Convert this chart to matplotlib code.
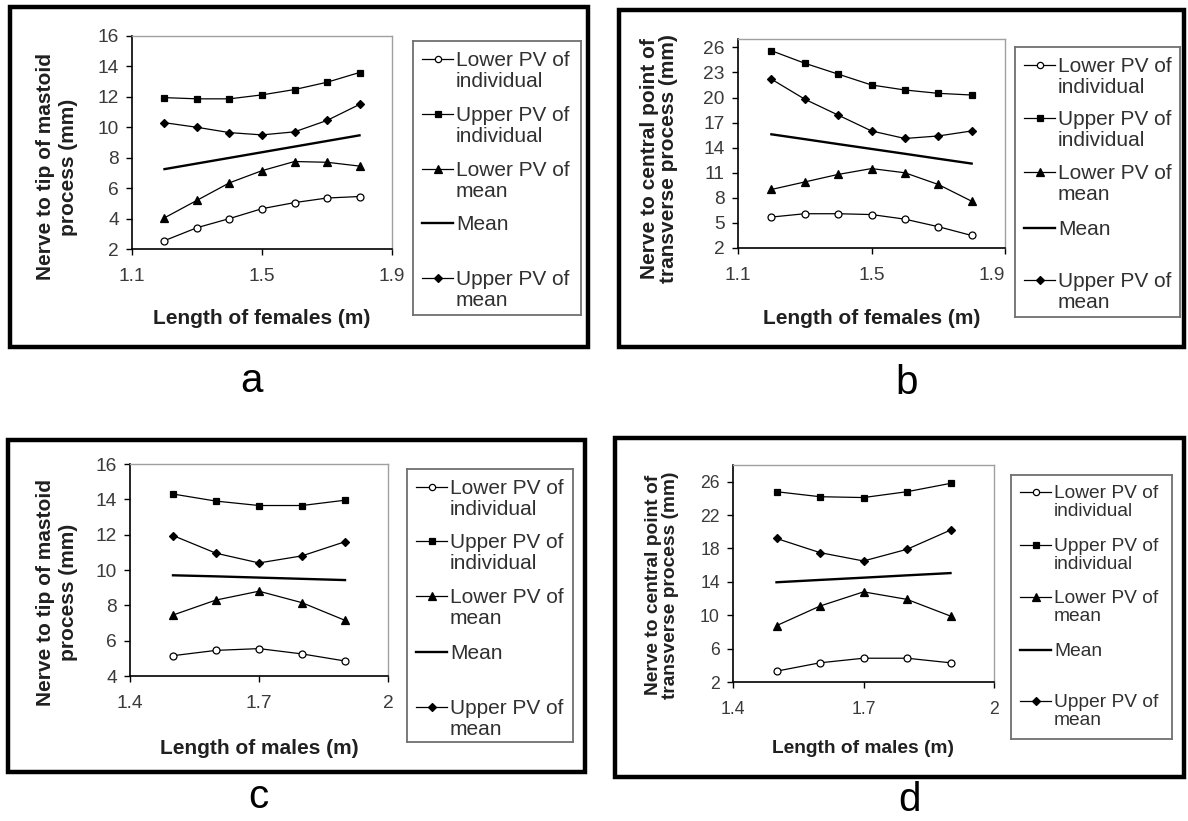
import numpy as np
import matplotlib.pyplot as plt
from matplotlib.patches import Rectangle

plt.rcParams['font.family'] = ['Liberation Sans', 'DejaVu Sans']

W, H = 1188, 821

# body length (m)
len_fem = [1.2, 1.3, 1.4, 1.5, 1.6, 1.7, 1.8]
len_male = [1.5, 1.6, 1.7, 1.8, 1.9]

# a: nerve to tip of mastoid process, females
a_low_ind = [2.55, 3.4, 4.0, 4.65, 5.05, 5.35, 5.45]
a_up_ind = [11.95, 11.87, 11.87, 12.13, 12.48, 12.96, 13.6]
a_low_mean = [4.05, 5.2, 6.35, 7.15, 7.75, 7.7, 7.45]
a_mean = [7.25, 7.62, 7.99, 8.36, 8.73, 9.1, 9.47]
a_up_mean = [10.3, 10.0, 9.65, 9.5, 9.7, 10.45, 11.5]

# b: nerve to central point of transverse process, females
b_low_ind = [5.7, 6.1, 6.1, 6.0, 5.45, 4.55, 3.5]
b_up_ind = [25.6, 24.1, 22.8, 21.5, 20.9, 20.5, 20.3]
b_low_mean = [9.0, 9.9, 10.8, 11.5, 11.0, 9.6, 7.6]
b_mean = [15.6, 15.02, 14.43, 13.85, 13.27, 12.68, 12.1]
b_up_mean = [22.2, 19.8, 17.9, 16.0, 15.1, 15.4, 16.0]

# c: nerve to tip of mastoid process, males
c_low_ind = [5.15, 5.45, 5.55, 5.25, 4.85]
c_up_ind = [14.3, 13.9, 13.65, 13.65, 13.95]
c_low_mean = [7.45, 8.3, 8.8, 8.15, 7.15]
c_mean = [9.7, 9.64, 9.57, 9.5, 9.43]
c_up_mean = [11.95, 10.95, 10.4, 10.8, 11.6]

# d: nerve to central point of transverse process, males
d_low_ind = [3.3, 4.3, 4.85, 4.85, 4.3]
d_up_ind = [24.8, 24.2, 24.1, 24.8, 25.8]
d_low_mean = [8.75, 11.1, 12.8, 11.9, 9.9]
d_mean = [13.95, 14.23, 14.5, 14.78, 15.05]
d_up_mean = [19.2, 17.5, 16.5, 17.9, 20.2]

series_labels = ['Lower PV of\nindividual', 'Upper PV of\nindividual',
                 'Lower PV of\nmean', 'Mean', 'Upper PV of\nmean']

styles = [
    dict(marker='o', ms=5, mfc='white', mew=0.9, lw=0.9),
    dict(marker='s', ms=5, mfc='black', mew=0.9, lw=0.9),
    dict(marker='^', ms=6, mfc='black', mew=0.9, lw=0.9),
    dict(marker='None', lw=1.7),
    dict(marker='D', ms=4.5, mfc='black', mew=0.9, lw=0.9),
]

fig = plt.figure(figsize=(W / 100, H / 100), dpi=100)
fig.patch.set_facecolor('white')


def px_rect(x0, y0, x1, y1):
    return [x0 / W, 1 - y1 / H, (x1 - x0) / W, (y1 - y0) / H]


def draw_panel(box, plot, legbox, leg_rows, x, ys, xlim, xticks, xticklabels,
               ylim, yticks, xlabel, ylabel, ylab_xy, xlab_y, letter, letter_xy,
               fs=1.0, ls=1.3, last_right=False):
    # outer frame of the panel
    fig.add_artist(Rectangle((box[0] / W, 1 - box[3] / H),
                             (box[2] - box[0]) / W, (box[3] - box[1]) / H,
                             transform=fig.transFigure, fill=False, lw=3.2,
                             ec='black'))

    ax = fig.add_axes(px_rect(*plot))
    for y, st in zip(ys, styles):
        ax.plot(x, y, color='black', mec='black', clip_on=False, **st)
    ax.set_xlim(xlim)
    ax.set_ylim(ylim)
    ax.set_xticks(xticks)
    ax.set_xticklabels(xticklabels)
    ax.set_yticks(yticks)
    for s in ['left', 'bottom']:
        ax.spines[s].set_color('black')
        ax.spines[s].set_linewidth(1.2)
    for s in ['top', 'right']:
        ax.spines[s].set_color('#a0a0a0')
        ax.spines[s].set_linewidth(1.0)
    ax.tick_params(direction='out', length=4.5, width=1.0,
                   labelsize=13.8 * fs, labelcolor='#3a3a3a')
    ax.tick_params(axis='x', pad=9)
    ax.tick_params(axis='y', pad=5)
    if last_right:
        ax.get_xticklabels()[-1].set_horizontalalignment('right')

    x0, y0, x1, y1 = plot
    ax.set_ylabel(ylabel, fontsize=15 * fs, fontweight='bold', linespacing=ls,
                  va='center', color='#202020')
    ax.yaxis.set_label_coords((ylab_xy[0] - x0) / (x1 - x0),
                              (y1 - ylab_xy[1]) / (y1 - y0))
    ax.set_xlabel(xlabel, fontsize=15 * fs, fontweight='bold', va='center',
                  color='#202020')
    ax.xaxis.set_label_coords(0.5, (y1 - xlab_y) / (y1 - y0))

    # legend drawn by hand so the marker sits on the first text line
    lx0, ly0, lx1, ly1 = legbox
    lax = fig.add_axes(px_rect(*legbox))
    lax.set_xlim(0, lx1 - lx0)
    lax.set_ylim(ly1 - ly0, 0)
    lax.set_xticks([])
    lax.set_yticks([])
    for s in lax.spines.values():
        s.set_color('#707070')
        s.set_linewidth(1.3)
    fpx = 15 * fs * 100 / 72
    for yrow, lab, st in zip(leg_rows, series_labels, styles):
        yy = yrow - ly0
        lax.plot([9, 40], [yy, yy], color='black', lw=st['lw'])
        if st['marker'] != 'None':
            lax.plot([24.5], [yy], color='black', mec='black', ls='none',
                     marker=st['marker'], ms=st['ms'] * 0.9, mfc=st['mfc'],
                     mew=st['mew'])
        lax.text(43, yy - 0.37 * fpx, lab, fontsize=15 * fs, va='top',
                 ha='left', linespacing=1.1, color='#303030')

    fig.text(letter_xy[0] / W, 1 - letter_xy[1] / H, letter, fontsize=29,
             ha='center', va='baseline')


draw_panel((10, 7, 588, 347), (132, 36, 392, 249), (413, 41, 581, 315),
           [59, 114, 169, 223, 278], len_fem,
           [a_low_ind, a_up_ind, a_low_mean, a_mean, a_up_mean],
           (1.1, 1.9), [1.1, 1.5, 1.9], ['1.1', '1.5', '1.9'],
           (2, 16), np.arange(2, 17, 2),
           'Length of females (m)', 'Nerve to tip of mastoid\nprocess (mm)',
           (57, 167), 318, 'a', (252, 392))

draw_panel((619, 10, 1184, 347), (738, 39, 1005, 248), (1015, 47, 1180, 317),
           [65, 118, 172, 228, 280], len_fem,
           [b_low_ind, b_up_ind, b_low_mean, b_mean, b_up_mean],
           (1.1, 1.9), [1.1, 1.5, 1.9], ['1.1', '1.5', '1.9'],
           (2, 27), np.arange(2, 27, 3),
           'Length of females (m)',
           'Nerve to central point of\ntransverse process (mm)',
           (659, 159), 318, 'b', (907, 394), ls=1.05, last_right=True)

draw_panel((8, 440, 585, 772), (130, 464, 388, 676), (407, 469, 573, 742),
           [487, 541, 596, 652, 707], len_male,
           [c_low_ind, c_up_ind, c_low_mean, c_mean, c_up_mean],
           (1.4, 2.0), [1.4, 1.7, 2.0], ['1.4', '1.7', '2'],
           (4, 16), np.arange(4, 17, 2),
           'Length of males (m)', 'Nerve to tip of mastoid\nprocess (mm)',
           (57, 592), 748, 'c', (258, 808))

draw_panel((615, 438, 1184, 777), (733, 465, 994, 682), (1011, 475, 1172, 739),
           [492, 545, 597, 650, 701], len_male,
           [d_low_ind, d_up_ind, d_low_mean, d_mean, d_up_mean],
           (1.4, 2.0), [1.4, 1.7, 2.0], ['1.4', '1.7', '2'],
           (2, 28), np.arange(2, 27, 4),
           'Length of males (m)',
           'Nerve to central point of\ntransverse process (mm)',
           (662, 585), 748, 'd', (910, 811), fs=0.92, ls=1.05)

fig.savefig('out.png', dpi=100, facecolor='white')
